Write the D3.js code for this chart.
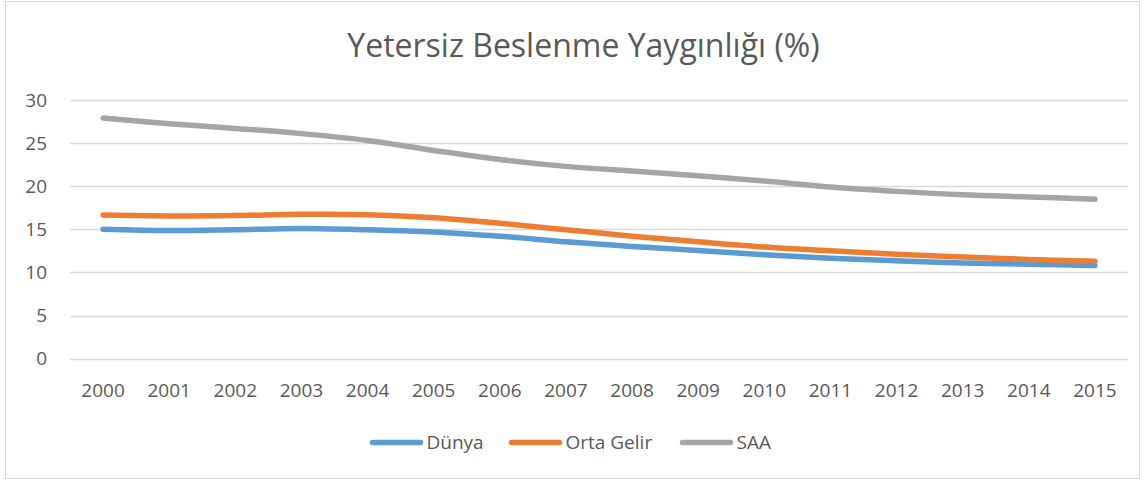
<!DOCTYPE html>
<html lang="tr">
<head>
<meta charset="UTF-8">
<title>Yetersiz Beslenme Yaygınlığı (%)</title>
<script src="https://d3js.org/d3.v7.min.js"></script>
<style>
  body { margin: 0; background: #fff; }
  text { font-family: "Open Sans", "Liberation Sans", sans-serif; fill: #595959; }
</style>
</head>
<body>
<svg width="1144" height="482"></svg>
<script>
// data
const years = ["2000","2001","2002","2003","2004","2005","2006","2007","2008","2009","2010","2011","2012","2013","2014","2015"];
const dunya = [15.0, 14.85, 14.95, 15.1, 14.95, 14.7, 14.2, 13.55, 13.0, 12.55, 12.05, 11.65, 11.35, 11.1, 10.95, 10.8];
const ortaGelir = [16.65, 16.55, 16.6, 16.75, 16.7, 16.35, 15.7, 14.95, 14.2, 13.55, 12.95, 12.5, 12.1, 11.8, 11.5, 11.3];
const saa = [27.9, 27.25, 26.7, 26.1, 25.3, 24.15, 23.1, 22.3, 21.75, 21.2, 20.6, 19.9, 19.4, 19.0, 18.75, 18.5];
const yTicks = [0, 5, 10, 15, 20, 25, 30];

const series = [
  { name: "Dünya", values: dunya, color: "#5B9BD5" },
  { name: "Orta Gelir", values: ortaGelir, color: "#ED7D31" },
  { name: "SAA", values: saa, color: "#A5A5A5" }
];

const svg = d3.select("svg");

// outer chart border
svg.append("rect")
  .attr("x", 5.5).attr("y", 1.5)
  .attr("width", 1134).attr("height", 477)
  .attr("fill", "#fff")
  .attr("stroke", "#d9d9d9");

const plot = { left: 70, right: 1128, top: 100, bottom: 358.6 };

const x = d3.scaleBand()
  .domain(years)
  .range([plot.left, plot.right]);

const cx = d => x(d) + x.bandwidth() / 2;

const y = d3.scaleLinear()
  .domain([0, 30])
  .range([plot.bottom, plot.top]);

// title
svg.append("text")
  .attr("x", 583.5).attr("y", 57)
  .attr("text-anchor", "middle")
  .style("font-size", "32px")
  .text("Yetersiz Beslenme Yaygınlığı (%)");

// gridlines
svg.append("g")
  .selectAll("line")
  .data(yTicks)
  .join("line")
  .attr("x1", plot.left).attr("x2", plot.right)
  .attr("y1", d => Math.round(y(d)) + 0.5)
  .attr("y2", d => Math.round(y(d)) + 0.5)
  .attr("stroke", "#d9d9d9")
  .attr("stroke-width", 1.3);

// y labels
svg.append("g")
  .selectAll("text")
  .data(yTicks)
  .join("text")
  .attr("x", 47)
  .attr("y", d => y(d))
  .attr("dy", "0.35em")
  .attr("text-anchor", "end")
  .style("font-size", "19px")
  .text(d => d);

// x labels
svg.append("g")
  .selectAll("text")
  .data(years)
  .join("text")
  .attr("x", d => cx(d))
  .attr("y", 390)
  .attr("dy", "0.35em")
  .attr("text-anchor", "middle")
  .style("font-size", "19px")
  .text(d => d);

// lines
const line = d3.line()
  .x((d, i) => cx(years[i]))
  .y(d => y(d))
  .curve(d3.curveCatmullRom.alpha(0.5));

svg.append("g")
  .selectAll("path")
  .data(series)
  .join("path")
  .attr("d", d => line(d.values))
  .attr("fill", "none")
  .attr("stroke", d => d.color)
  .attr("stroke-width", 5.5)
  .attr("stroke-linecap", "round")
  .attr("stroke-linejoin", "round");

// legend
const legendX = [372.5, 511.5, 682.5];
const lg = svg.append("g")
  .selectAll("g")
  .data(series)
  .join("g")
  .attr("transform", (d, i) => `translate(${legendX[i]},442.5)`);

lg.append("line")
  .attr("x1", 0).attr("x2", 48)
  .attr("stroke", d => d.color)
  .attr("stroke-width", 5.5)
  .attr("stroke-linecap", "round");

lg.append("text")
  .attr("x", 54)
  .attr("dy", "0.35em")
  .style("font-size", "19px")
  .text(d => d.name);
</script>
</body>
</html>
